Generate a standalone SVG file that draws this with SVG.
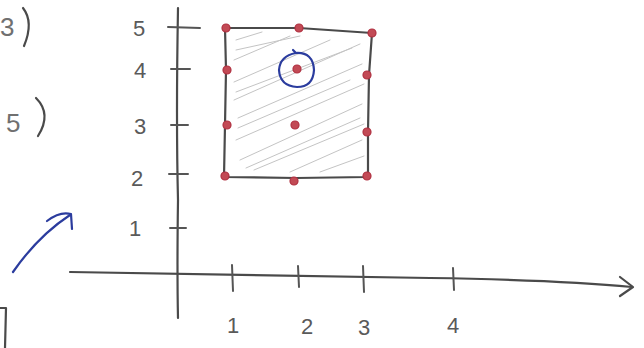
<svg xmlns="http://www.w3.org/2000/svg" width="644" height="348" viewBox="0 0 644 348">
<style>
.pen{fill:none;stroke:#4a4a4a;stroke-width:2.2;stroke-linecap:round;stroke-linejoin:round}
.tick{fill:none;stroke:#555;stroke-width:2;stroke-linecap:round}
.hatch{fill:none;stroke:#c4c4c4;stroke-width:1;stroke-linecap:round}
.dot{fill:#c24a55;stroke:#b03040;stroke-width:1.2}
.blue{fill:none;stroke:#2b3c9e;stroke-width:2.2;stroke-linecap:round;stroke-linejoin:round}
.lbl{font-family:"Liberation Sans",Arial,sans-serif;font-size:22px;fill:#5a5a5a}
.big{font-size:26px;fill:#707070}
</style>
<rect width="644" height="348" fill="#ffffff"/>
<g id="margin-notes">
<text class="lbl big" x="0" y="36">3</text>
<path class="pen" d="M23,8 Q34,22 24,46" stroke="#777" stroke-width="2"/>
<text class="lbl big" x="6" y="132">5</text>
<path class="pen" d="M36,98 Q52,114 38,136" stroke="#777" stroke-width="2"/>
<path class="pen" d="M0,308 L6,308 L5,348" stroke="#888" stroke-width="1.6"/>
</g>
<g id="blue-arrow">
<path class="blue" d="M13,272 Q38,236 70,215"/>
<path class="blue" d="M47,221 Q60,211 71,214 L72,229"/>
</g>
<g id="region">
<path class="hatch" d="M236,40 L262,32 M234,60 L290,36 M234,82 L330,40 M234,100 L360,44 M238,118 L362,64 M236,140 L364,84 M240,160 L362,104 M254,170 L364,124 M290,172 L362,140 M320,172 L364,156 M236,50 L300,36 M236,92 L352,48 M238,128 L350,80 M246,168 L360,118"/>
<path class="pen" d="M225,28 L299,28 L372,33 L369,75 L368,132 L368,177 L296,178 L224,177 L225,125 L226,70 Z"/>
</g>
<g id="axes">
<path class="pen" d="M178,8 Q176,120 178,200 Q177,270 178,318"/>
<path class="pen" d="M70,272 Q300,276 430,278 Q560,280 632,287"/>
<path class="pen" d="M620,277 L633,287 L620,296"/>
<path class="tick" d="M168,27 L200,28 M171,69 L190,69 M171,125 L188,125 M169,174 L188,174 M170,228 L186,228"/>
<path class="tick" d="M232,265 L233,291 M298,266 L299,287 M363,266 L364,292 M453,268 L454,290"/>
</g>
<g id="y-labels">
<text class="lbl" x="133" y="36">5</text>
<text class="lbl" x="134" y="78">4</text>
<text class="lbl" x="134" y="134">3</text>
<text class="lbl" x="131" y="186">2</text>
<text class="lbl" x="129" y="236" font-size="18">1</text>
</g>
<g id="x-labels">
<text class="lbl" x="227" y="333">1</text>
<text class="lbl" x="301" y="334">2</text>
<text class="lbl" x="358" y="335">3</text>
<text class="lbl" x="447" y="333">4</text>
</g>
<g id="points">
<circle class="dot" cx="226" cy="28" r="4"/>
<circle class="dot" cx="299" cy="28" r="4"/>
<circle class="dot" cx="372" cy="33" r="4"/>
<circle class="dot" cx="227" cy="70" r="4"/>
<circle class="dot" cx="297" cy="69" r="4"/>
<circle class="dot" cx="367" cy="75" r="4"/>
<circle class="dot" cx="227" cy="125" r="4"/>
<circle class="dot" cx="295" cy="125" r="4"/>
<circle class="dot" cx="367" cy="132" r="4"/>
<circle class="dot" cx="225" cy="176" r="4"/>
<circle class="dot" cx="294" cy="181" r="4"/>
<circle class="dot" cx="367" cy="176" r="4"/>
</g>
<g id="highlight">
<path class="blue" d="M296,53 Q313,52 314,70 Q313,87 297,87 Q280,86 279,70 Q280,56 296,53 L293,50"/>
</g>
</svg>
